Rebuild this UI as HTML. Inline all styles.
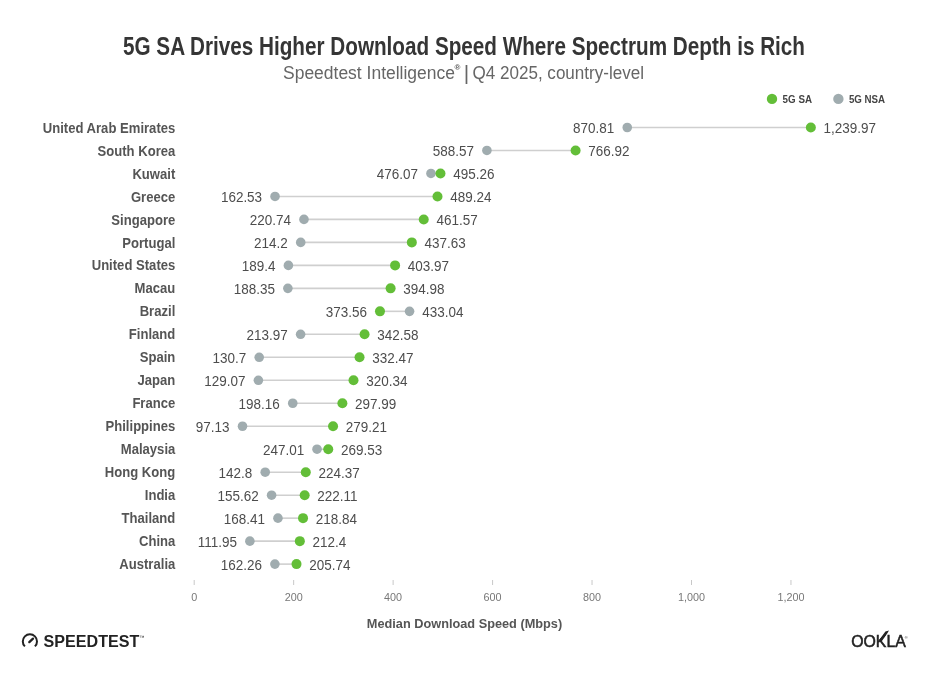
<!DOCTYPE html>
<html><head><meta charset="utf-8"><style>
html,body{margin:0;padding:0;background:#fff;}
svg{display:block;will-change:transform;}
text{font-family:"Liberation Sans",Arial,sans-serif;}
.t{font-size:26px;font-weight:bold;fill:#353535;}
.st{font-size:18px;fill:#666;}
.lg{font-size:11px;font-weight:bold;fill:#444;}
.lab{font-size:14px;font-weight:bold;fill:#555;text-anchor:end;}
.val{font-size:14.5px;fill:#4d4d4d;}
.tick{font-size:10.8px;fill:#777;}
.ax{font-size:13.6px;font-weight:bold;fill:#555;}
.sp{font-size:16px;font-weight:bold;fill:#222;}
.tm{font-size:5px;fill:#222;}
.ok{font-size:16.6px;fill:#222;stroke:#222;stroke-width:0.55px;}
</style></head><body>
<svg width="929" height="675" viewBox="0 0 929 675">
<text x="123" y="55.4" textLength="682" lengthAdjust="spacingAndGlyphs" class="t">5G SA Drives Higher Download Speed Where Spectrum Depth is Rich</text>
<text x="283" y="78.5" textLength="172" lengthAdjust="spacingAndGlyphs" class="st">Speedtest Intelligence</text>
<text x="454.6" y="70" class="st" style="font-size:8px;font-weight:bold;fill:#555">®</text>
<text x="463.7" y="80.3" class="st" style="font-size:21px">|</text>
<text x="472.5" y="78.5" textLength="171.5" lengthAdjust="spacingAndGlyphs" class="st">Q4 2025, country-level</text>
<circle cx="772" cy="98.9" r="5.2" fill="#63be38"/>
<text x="782.6" y="102.6" textLength="29.4" lengthAdjust="spacingAndGlyphs" class="lg">5G SA</text>
<circle cx="838.4" cy="98.9" r="5.2" fill="#a0acaf"/>
<text x="848.9" y="102.6" textLength="36.2" lengthAdjust="spacingAndGlyphs" class="lg">5G NSA</text>
<text transform="translate(175.3,132.60) scale(0.935,1)" class="lab">United Arab Emirates</text>
<line x1="627.25" y1="127.50" x2="810.84" y2="127.50" stroke="#cfcfcf" stroke-width="1.6"/>
<circle cx="627.25" cy="127.50" r="4.8" fill="#a0acaf"/>
<circle cx="810.84" cy="127.50" r="5.0" fill="#63be38"/>
<text transform="translate(614.35,132.90) scale(0.93,1)" class="val" text-anchor="end">870.81</text>
<text transform="translate(823.54,132.90) scale(0.93,1)" class="val">1,239.97</text>
<text transform="translate(175.3,155.58) scale(0.935,1)" class="lab">South Korea</text>
<line x1="486.90" y1="150.48" x2="575.59" y2="150.48" stroke="#cfcfcf" stroke-width="1.6"/>
<circle cx="486.90" cy="150.48" r="4.8" fill="#a0acaf"/>
<circle cx="575.59" cy="150.48" r="5.0" fill="#63be38"/>
<text transform="translate(474.00,155.88) scale(0.93,1)" class="val" text-anchor="end">588.57</text>
<text transform="translate(588.29,155.88) scale(0.93,1)" class="val">766.92</text>
<text transform="translate(175.3,178.56) scale(0.935,1)" class="lab">Kuwait</text>
<line x1="430.95" y1="173.46" x2="440.49" y2="173.46" stroke="#cfcfcf" stroke-width="1.6"/>
<circle cx="430.95" cy="173.46" r="4.8" fill="#a0acaf"/>
<circle cx="440.49" cy="173.46" r="5.0" fill="#63be38"/>
<text transform="translate(418.05,178.86) scale(0.93,1)" class="val" text-anchor="end">476.07</text>
<text transform="translate(453.19,178.86) scale(0.93,1)" class="val">495.26</text>
<text transform="translate(175.3,201.54) scale(0.935,1)" class="lab">Greece</text>
<line x1="275.03" y1="196.44" x2="437.50" y2="196.44" stroke="#cfcfcf" stroke-width="1.6"/>
<circle cx="275.03" cy="196.44" r="4.8" fill="#a0acaf"/>
<circle cx="437.50" cy="196.44" r="5.0" fill="#63be38"/>
<text transform="translate(262.13,201.84) scale(0.93,1)" class="val" text-anchor="end">162.53</text>
<text transform="translate(450.20,201.84) scale(0.93,1)" class="val">489.24</text>
<text transform="translate(175.3,224.52) scale(0.935,1)" class="lab">Singapore</text>
<line x1="303.97" y1="219.42" x2="423.74" y2="219.42" stroke="#cfcfcf" stroke-width="1.6"/>
<circle cx="303.97" cy="219.42" r="4.8" fill="#a0acaf"/>
<circle cx="423.74" cy="219.42" r="5.0" fill="#63be38"/>
<text transform="translate(291.07,224.82) scale(0.93,1)" class="val" text-anchor="end">220.74</text>
<text transform="translate(436.44,224.82) scale(0.93,1)" class="val">461.57</text>
<text transform="translate(175.3,247.50) scale(0.935,1)" class="lab">Portugal</text>
<line x1="300.72" y1="242.40" x2="411.83" y2="242.40" stroke="#cfcfcf" stroke-width="1.6"/>
<circle cx="300.72" cy="242.40" r="4.8" fill="#a0acaf"/>
<circle cx="411.83" cy="242.40" r="5.0" fill="#63be38"/>
<text transform="translate(287.82,247.80) scale(0.93,1)" class="val" text-anchor="end">214.2</text>
<text transform="translate(424.53,247.80) scale(0.93,1)" class="val">437.63</text>
<text transform="translate(175.3,270.48) scale(0.935,1)" class="lab">United States</text>
<line x1="288.39" y1="265.38" x2="395.09" y2="265.38" stroke="#cfcfcf" stroke-width="1.6"/>
<circle cx="288.39" cy="265.38" r="4.8" fill="#a0acaf"/>
<circle cx="395.09" cy="265.38" r="5.0" fill="#63be38"/>
<text transform="translate(275.49,270.78) scale(0.93,1)" class="val" text-anchor="end">189.4</text>
<text transform="translate(407.79,270.78) scale(0.93,1)" class="val">403.97</text>
<text transform="translate(175.3,293.46) scale(0.935,1)" class="lab">Macau</text>
<line x1="287.87" y1="288.36" x2="390.62" y2="288.36" stroke="#cfcfcf" stroke-width="1.6"/>
<circle cx="287.87" cy="288.36" r="4.8" fill="#a0acaf"/>
<circle cx="390.62" cy="288.36" r="5.0" fill="#63be38"/>
<text transform="translate(274.97,293.76) scale(0.93,1)" class="val" text-anchor="end">188.35</text>
<text transform="translate(403.32,293.76) scale(0.93,1)" class="val">394.98</text>
<text transform="translate(175.3,316.44) scale(0.935,1)" class="lab">Brazil</text>
<line x1="379.97" y1="311.34" x2="409.55" y2="311.34" stroke="#cfcfcf" stroke-width="1.6"/>
<circle cx="409.55" cy="311.34" r="4.8" fill="#a0acaf"/>
<circle cx="379.97" cy="311.34" r="5.0" fill="#63be38"/>
<text transform="translate(367.07,316.74) scale(0.93,1)" class="val" text-anchor="end">373.56</text>
<text transform="translate(422.25,316.74) scale(0.93,1)" class="val">433.04</text>
<text transform="translate(175.3,339.42) scale(0.935,1)" class="lab">Finland</text>
<line x1="300.61" y1="334.32" x2="364.57" y2="334.32" stroke="#cfcfcf" stroke-width="1.6"/>
<circle cx="300.61" cy="334.32" r="4.8" fill="#a0acaf"/>
<circle cx="364.57" cy="334.32" r="5.0" fill="#63be38"/>
<text transform="translate(287.71,339.72) scale(0.93,1)" class="val" text-anchor="end">213.97</text>
<text transform="translate(377.27,339.72) scale(0.93,1)" class="val">342.58</text>
<text transform="translate(175.3,362.40) scale(0.935,1)" class="lab">Spain</text>
<line x1="259.20" y1="357.30" x2="359.54" y2="357.30" stroke="#cfcfcf" stroke-width="1.6"/>
<circle cx="259.20" cy="357.30" r="4.8" fill="#a0acaf"/>
<circle cx="359.54" cy="357.30" r="5.0" fill="#63be38"/>
<text transform="translate(246.30,362.70) scale(0.93,1)" class="val" text-anchor="end">130.7</text>
<text transform="translate(372.24,362.70) scale(0.93,1)" class="val">332.47</text>
<text transform="translate(175.3,385.38) scale(0.935,1)" class="lab">Japan</text>
<line x1="258.39" y1="380.28" x2="353.51" y2="380.28" stroke="#cfcfcf" stroke-width="1.6"/>
<circle cx="258.39" cy="380.28" r="4.8" fill="#a0acaf"/>
<circle cx="353.51" cy="380.28" r="5.0" fill="#63be38"/>
<text transform="translate(245.49,385.68) scale(0.93,1)" class="val" text-anchor="end">129.07</text>
<text transform="translate(366.21,385.68) scale(0.93,1)" class="val">320.34</text>
<text transform="translate(175.3,408.36) scale(0.935,1)" class="lab">France</text>
<line x1="292.74" y1="403.26" x2="342.39" y2="403.26" stroke="#cfcfcf" stroke-width="1.6"/>
<circle cx="292.74" cy="403.26" r="4.8" fill="#a0acaf"/>
<circle cx="342.39" cy="403.26" r="5.0" fill="#63be38"/>
<text transform="translate(279.84,408.66) scale(0.93,1)" class="val" text-anchor="end">198.16</text>
<text transform="translate(355.09,408.66) scale(0.93,1)" class="val">297.99</text>
<text transform="translate(175.3,431.34) scale(0.935,1)" class="lab">Philippines</text>
<line x1="242.50" y1="426.24" x2="333.05" y2="426.24" stroke="#cfcfcf" stroke-width="1.6"/>
<circle cx="242.50" cy="426.24" r="4.8" fill="#a0acaf"/>
<circle cx="333.05" cy="426.24" r="5.0" fill="#63be38"/>
<text transform="translate(229.60,431.64) scale(0.93,1)" class="val" text-anchor="end">97.13</text>
<text transform="translate(345.75,431.64) scale(0.93,1)" class="val">279.21</text>
<text transform="translate(175.3,454.32) scale(0.935,1)" class="lab">Malaysia</text>
<line x1="317.04" y1="449.22" x2="328.24" y2="449.22" stroke="#cfcfcf" stroke-width="1.6"/>
<circle cx="317.04" cy="449.22" r="4.8" fill="#a0acaf"/>
<circle cx="328.24" cy="449.22" r="5.0" fill="#63be38"/>
<text transform="translate(304.14,454.62) scale(0.93,1)" class="val" text-anchor="end">247.01</text>
<text transform="translate(340.94,454.62) scale(0.93,1)" class="val">269.53</text>
<text transform="translate(175.3,477.30) scale(0.935,1)" class="lab">Hong Kong</text>
<line x1="265.21" y1="472.20" x2="305.78" y2="472.20" stroke="#cfcfcf" stroke-width="1.6"/>
<circle cx="265.21" cy="472.20" r="4.8" fill="#a0acaf"/>
<circle cx="305.78" cy="472.20" r="5.0" fill="#63be38"/>
<text transform="translate(252.31,477.60) scale(0.93,1)" class="val" text-anchor="end">142.8</text>
<text transform="translate(318.48,477.60) scale(0.93,1)" class="val">224.37</text>
<text transform="translate(175.3,500.28) scale(0.935,1)" class="lab">India</text>
<line x1="271.59" y1="495.18" x2="304.66" y2="495.18" stroke="#cfcfcf" stroke-width="1.6"/>
<circle cx="271.59" cy="495.18" r="4.8" fill="#a0acaf"/>
<circle cx="304.66" cy="495.18" r="5.0" fill="#63be38"/>
<text transform="translate(258.69,500.58) scale(0.93,1)" class="val" text-anchor="end">155.62</text>
<text transform="translate(317.36,500.58) scale(0.93,1)" class="val">222.11</text>
<text transform="translate(175.3,523.26) scale(0.935,1)" class="lab">Thailand</text>
<line x1="277.95" y1="518.16" x2="303.03" y2="518.16" stroke="#cfcfcf" stroke-width="1.6"/>
<circle cx="277.95" cy="518.16" r="4.8" fill="#a0acaf"/>
<circle cx="303.03" cy="518.16" r="5.0" fill="#63be38"/>
<text transform="translate(265.05,523.56) scale(0.93,1)" class="val" text-anchor="end">168.41</text>
<text transform="translate(315.73,523.56) scale(0.93,1)" class="val">218.84</text>
<text transform="translate(175.3,546.24) scale(0.935,1)" class="lab">China</text>
<line x1="249.87" y1="541.14" x2="299.83" y2="541.14" stroke="#cfcfcf" stroke-width="1.6"/>
<circle cx="249.87" cy="541.14" r="4.8" fill="#a0acaf"/>
<circle cx="299.83" cy="541.14" r="5.0" fill="#63be38"/>
<text transform="translate(236.97,546.54) scale(0.93,1)" class="val" text-anchor="end">111.95</text>
<text transform="translate(312.53,546.54) scale(0.93,1)" class="val">212.4</text>
<text transform="translate(175.3,569.22) scale(0.935,1)" class="lab">Australia</text>
<line x1="274.89" y1="564.12" x2="296.51" y2="564.12" stroke="#cfcfcf" stroke-width="1.6"/>
<circle cx="274.89" cy="564.12" r="4.8" fill="#a0acaf"/>
<circle cx="296.51" cy="564.12" r="5.0" fill="#63be38"/>
<text transform="translate(261.99,569.52) scale(0.93,1)" class="val" text-anchor="end">162.26</text>
<text transform="translate(309.21,569.52) scale(0.93,1)" class="val">205.74</text>
<line x1="194.20" y1="580" x2="194.20" y2="585" stroke="#c8c8c8" stroke-width="1"/>
<text x="194.20" y="601.4" class="tick" text-anchor="middle">0</text>
<line x1="293.66" y1="580" x2="293.66" y2="585" stroke="#c8c8c8" stroke-width="1"/>
<text x="293.66" y="601.4" class="tick" text-anchor="middle">200</text>
<line x1="393.12" y1="580" x2="393.12" y2="585" stroke="#c8c8c8" stroke-width="1"/>
<text x="393.12" y="601.4" class="tick" text-anchor="middle">400</text>
<line x1="492.58" y1="580" x2="492.58" y2="585" stroke="#c8c8c8" stroke-width="1"/>
<text x="492.58" y="601.4" class="tick" text-anchor="middle">600</text>
<line x1="592.04" y1="580" x2="592.04" y2="585" stroke="#c8c8c8" stroke-width="1"/>
<text x="592.04" y="601.4" class="tick" text-anchor="middle">800</text>
<line x1="691.50" y1="580" x2="691.50" y2="585" stroke="#c8c8c8" stroke-width="1"/>
<text x="691.50" y="601.4" class="tick" text-anchor="middle">1,000</text>
<line x1="790.96" y1="580" x2="790.96" y2="585" stroke="#c8c8c8" stroke-width="1"/>
<text x="790.96" y="601.4" class="tick" text-anchor="middle">1,200</text>
<text x="366.8" y="628.3" textLength="195.4" lengthAdjust="spacingAndGlyphs" class="ax">Median Download Speed (Mbps)</text>
<g fill="none" stroke="#222" stroke-width="2.0" stroke-linecap="butt"><path d="M24.9 646.4 A7.1 7.1 0 1 1 34.9 646.4"/><path d="M29.3 642.1 L33.0 638.6" stroke-linecap="round" stroke-width="2.3"/></g>
<text x="43.6" y="646.9" textLength="95.7" lengthAdjust="spacingAndGlyphs" class="sp">SPEEDTEST</text>
<text x="139.6" y="638.6" class="tm">™</text>
<text x="851.2" y="647.4" textLength="54.6" lengthAdjust="spacingAndGlyphs" class="ok">OOKLA</text>
<path d="M879.6 642.5 L879.6 639.4 L885.4 631.6 L889.0 630.6 L887.2 633.6 L881.6 641.5 Z" fill="#222"/>
<text x="904.8" y="638.6" class="tm" style="font-size:4px">®</text>
</svg>
</body></html>
